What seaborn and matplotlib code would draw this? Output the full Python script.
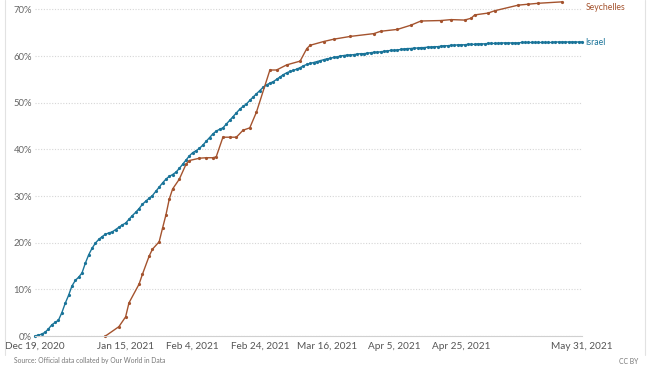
import seaborn as sns
import pandas as pd
import matplotlib.pyplot as plt
import matplotlib.ticker as mticker
from matplotlib.lines import Line2D

# --- share of people with at least one vaccine dose (%) ---

israel_start = "2020-12-19"
israel_end = "2021-05-31"
israel_values = [
    0.0, 0.2, 0.4, 0.8, 1.5, 2.4, 2.9, 3.4, 5.0, 7.0,
    8.7, 10.7, 11.9, 12.6, 13.5, 15.6, 17.4, 18.8, 19.9, 20.7,
    21.3, 21.8, 22.1, 22.3, 22.8, 23.3, 23.8, 24.2, 25.0, 25.8,
    26.5, 27.3, 28.2, 28.9, 29.5, 30.1, 31.0, 31.9, 32.8, 33.6,
    34.2, 34.6, 35.1, 35.9, 36.8, 37.7, 38.6, 39.3, 39.7, 40.2,
    40.9, 41.7, 42.5, 43.3, 43.9, 44.3, 44.6, 45.4, 46.2, 47.0,
    47.8, 48.6, 49.2, 49.7, 50.5, 51.2, 51.9, 52.6, 53.3, 53.8,
    54.2, 54.5, 55.0, 55.5, 56.0, 56.4, 56.7, 56.9, 57.2, 57.5,
    57.9, 58.2, 58.4, 58.6, 58.8, 59.0, 59.2, 59.4, 59.5, 59.7,
    59.8, 60.0, 60.1, 60.2, 60.2, 60.3, 60.4, 60.5, 60.5, 60.6,
    60.7, 60.8, 60.8, 60.9, 61.0, 61.1, 61.2, 61.2, 61.3, 61.4,
    61.5, 61.6, 61.6, 61.7, 61.7, 61.8, 61.8, 61.9, 61.9, 62.0,
    62.0, 62.1, 62.2, 62.2, 62.3, 62.3, 62.4, 62.4, 62.4, 62.5,
    62.5, 62.5, 62.6, 62.6, 62.6, 62.7, 62.7, 62.7, 62.7, 62.8,
    62.8, 62.8, 62.8, 62.8, 62.8, 62.9, 62.9, 62.9, 62.9, 62.9,
    62.9, 62.9, 62.9, 62.9, 62.9, 63.0, 63.0, 63.0, 63.0, 63.0,
    63.0, 63.0, 63.0, 63.0,
]

seychelles_dates = [
    "2021-01-09", "2021-01-13", "2021-01-15", "2021-01-16", "2021-01-19",
    "2021-01-20", "2021-01-22", "2021-01-23", "2021-01-25", "2021-01-26",
    "2021-01-27", "2021-01-28", "2021-01-29", "2021-01-31", "2021-02-02",
    "2021-02-03", "2021-02-06", "2021-02-08", "2021-02-10", "2021-02-11",
    "2021-02-13", "2021-02-15", "2021-02-17", "2021-02-19", "2021-02-21",
    "2021-02-23", "2021-02-27", "2021-03-01", "2021-03-04", "2021-03-08",
    "2021-03-10", "2021-03-11", "2021-03-15", "2021-03-18", "2021-03-23",
    "2021-03-30", "2021-04-01", "2021-04-06", "2021-04-10", "2021-04-13",
    "2021-04-19", "2021-04-22", "2021-04-26", "2021-04-28", "2021-04-29",
    "2021-05-03", "2021-05-05", "2021-05-12", "2021-05-15", "2021-05-18",
    "2021-05-25",
]
seychelles_values = [
    0.0, 2.0, 4.1, 7.1, 11.1,
    13.2, 17.1, 18.6, 20.2, 23.1,
    25.9, 29.3, 31.5, 33.6, 36.8,
    37.6, 38.1, 38.2, 38.2, 38.4,
    42.6, 42.6, 42.6, 44.1, 44.6,
    48.0, 57.0, 57.0, 58.1, 58.9,
    61.6, 62.3, 63.1, 63.6, 64.2,
    64.8, 65.3, 65.7, 66.6, 67.5,
    67.6, 67.8, 67.7, 68.1, 68.8,
    69.2, 69.7, 70.9, 71.1, 71.3,
    71.6,
]

tick_dates = ["2020-12-19", "2021-01-15", "2021-02-04", "2021-02-24",
              "2021-03-16", "2021-04-05", "2021-04-25", "2021-05-31"]
tick_labels = ["Dec 19, 2020", "Jan 15, 2021", "Feb 4, 2021", "Feb 24, 2021",
               "Mar 16, 2021", "Apr 5, 2021", "Apr 25, 2021", "May 31, 2021"]
y_ticks = [0, 10, 20, 30, 40, 50, 60, 70]

colors = {"Israel": "#1a7499", "Seychelles": "#a4532e"}

israel = pd.DataFrame({"date": pd.date_range(israel_start, israel_end),
                       "share": israel_values, "country": "Israel"})
seychelles = pd.DataFrame({"date": pd.to_datetime(seychelles_dates),
                           "share": seychelles_values, "country": "Seychelles"})
df = pd.concat([israel, seychelles], ignore_index=True)

sns.set_style("white")
plt.rcParams["font.family"] = ["Lato", "DejaVu Sans"]

fig = plt.figure(figsize=(6.6, 3.78), dpi=100)
ax = fig.add_axes([35 / 660, 1 - 336 / 378, 547 / 660, 336 / 378])

sns.lineplot(data=df, x="date", y="share", hue="country", palette=colors,
             marker="o", markersize=2.3, markeredgewidth=0, linewidth=1.0,
             legend=False, ax=ax, clip_on=False)

ax.set_xlim(pd.Timestamp(israel_start), pd.Timestamp(israel_end))
ax.set_ylim(0, 72)
ax.set_xlabel("")
ax.set_ylabel("")

ax.set_yticks(y_ticks)
ax.yaxis.set_major_formatter(mticker.FuncFormatter(lambda v, p: f"{v:.0f}%"))
ax.set_xticks(pd.to_datetime(tick_dates))
ax.set_xticklabels(tick_labels)

ax.grid(axis="y", color="#d6d6d6", linestyle=(0, (1, 1.5)), linewidth=0.8)
ax.grid(axis="x", visible=False)
for side in ["top", "right", "left"]:
    ax.spines[side].set_visible(False)
ax.spines["bottom"].set_color("#d0d0d0")
ax.spines["bottom"].set_linewidth(0.8)
ax.tick_params(axis="y", length=0, pad=2, labelsize=6.8, labelcolor="#666666")
ax.tick_params(axis="x", length=3, width=0.6, color="#d0d0d0", pad=1,
               labelsize=7.2, labelcolor="#555555")

# direct labels at the line ends
ax.text(pd.Timestamp(israel_end) + pd.Timedelta(days=1), 70.4, "Seychelles",
        color=colors["Seychelles"], fontsize=6.2, va="center", ha="left", clip_on=False)
ax.text(pd.Timestamp(israel_end) + pd.Timedelta(days=1), 63.0, "Israel",
        color=colors["Israel"], fontsize=6.2, va="center", ha="left", clip_on=False)

fig.text(14 / 660, 1 - 361 / 378, "Source: Official data collated by Our World in Data",
         fontsize=4.9, color="#777777", va="center", ha="left")
fig.text(638 / 660, 1 - 361 / 378, "CC BY", fontsize=4.9, color="#777777",
         va="center", ha="right")

# thin frame lines at the sides
fig.add_artist(Line2D([5 / 660, 5 / 660], [1 - 355 / 378, 1], color="#e2e2e2", linewidth=0.8))
fig.add_artist(Line2D([645 / 660, 645 / 660], [1 - 355 / 378, 1], color="#e2e2e2", linewidth=0.8))

fig.savefig("out.png", dpi=100)
